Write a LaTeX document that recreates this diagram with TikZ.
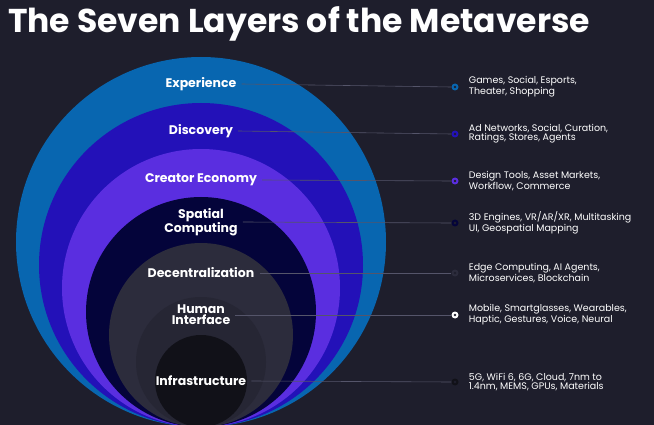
\documentclass[tikz,border=0pt]{standalone}
\usepackage{fontspec}
\setmainfont{Poppins}
\usetikzlibrary{positioning}

\definecolor{bgcol}{HTML}{1E1E2C}
\definecolor{expcol}{HTML}{0866B0}
\definecolor{discol}{HTML}{2311B8}
\definecolor{crecol}{HTML}{5A2EE0}
\definecolor{spacol}{HTML}{04043A}
\definecolor{deccol}{HTML}{2C2C3C}
\definecolor{humcol}{HTML}{262634}
\definecolor{infcol}{HTML}{111118}
\definecolor{linecol}{HTML}{55556A}

\tikzset{
  layer/.style={font=\fontsize{12.5}{11}\selectfont\bfseries, text=white, align=center, inner sep=1pt},
  info/.style={font=\fontsize{9.5}{9}\selectfont, text=white, align=left, anchor=west, inner sep=0pt},
  leader/.style={draw=linecol, line width=0.6pt},
  marker/.style={circle, fill=#1, minimum size=7pt, inner sep=0pt}
}

\begin{document}
\begin{tikzpicture}[x=1pt,y=-1pt]
    \fill[bgcol] (0,0) rectangle (654,425);
    \useasboundingbox (0,0) rectangle (654,425);
    % Title
    \node[anchor=west, text=white, font=\fontsize{33}{33}\selectfont\bfseries, inner sep=0pt] (title) at (8,24) {The Seven Layers of the Metaverse};
    % Nested circles
    \fill[expcol] (201,242) circle (185);
    \fill[discol] (201,265) circle (162);
    \fill[crecol] (201,288) circle (139);
    \fill[spacol] (201,312) circle (115);
    \fill[deccol] (201,335) circle (92);
    \fill[humcol] (201,362) circle (65);
    \fill[infcol] (201,381) circle (46);
    % Layer names
    \node[layer] (exp) at (201,84) {Experience};
    \node[layer] (dis) at (201,131) {Discovery};
    \node[layer] (cre) at (201,180) {Creator Economy};
    \node[layer] (spa) at (201,222) {Spatial\\Computing};
    \node[layer] (dec) at (201,273) {Decentralization};
    \node[layer] (hum) at (201,315) {Human\\Interface};
    \node[layer] (inf) at (201,381) {Infrastructure};
    % Markers
    \node[marker=expcol] (mexp) at (455,87) {};
    \node[marker=discol] (mdis) at (455,134) {};
    \node[marker=crecol] (mcre) at (455,181) {};
    \node[marker=spacol] (mspa) at (455,223) {};
    \node[marker=deccol] (mdec) at (455,273) {};
    \node[marker=white] (mhum) at (455,315) {};
    \node[marker=infcol] (minf) at (455,382) {};
    \foreach \m in {mexp,mdis,mcre,mspa,mdec,mhum,minf}
      \fill[bgcol] (\m) circle (1.3);
    % Leaders
    \draw[leader] (exp.east) ++(4,0) -- (mexp.west);
    \draw[leader] (dis.east) ++(4,0) -- (mdis.west);
    \draw[leader] (cre.east) ++(4,0) -- (mcre.west);
    \draw[leader] (spa.east) ++(4,0) -- (mspa.west);
    \draw[leader] (dec.east) ++(4,0) -- (mdec.west);
    \draw[leader] (hum.east) ++(4,0) -- (mhum.west);
    \draw[leader] (inf.east) ++(4,0) -- (minf.west);
    % Details
    \node[info, right=10pt of mexp] (texp) {Games, Social, Esports,\\Theater, Shopping};
    \node[info, right=10pt of mdis] (tdis) {Ad Networks, Social, Curation,\\Ratings, Stores, Agents};
    \node[info, right=10pt of mcre] (tcre) {Design Tools, Asset Markets,\\Workflow, Commerce};
    \node[info, right=10pt of mspa] (tspa) {3D Engines, VR/AR/XR, Multitasking\\UI, Geospatial Mapping};
    \node[info, right=10pt of mdec] (tdec) {Edge Computing, AI Agents,\\Microservices, Blockchain};
    \node[info, right=10pt of mhum] (thum) {Mobile, Smartglasses, Wearables,\\Haptic, Gestures, Voice, Neural};
    \node[info, right=10pt of minf] (tinf) {5G, WiFi 6, 6G, Cloud, 7nm to\\1.4nm, MEMS, GPUs, Materials};
\end{tikzpicture}
\end{document}
